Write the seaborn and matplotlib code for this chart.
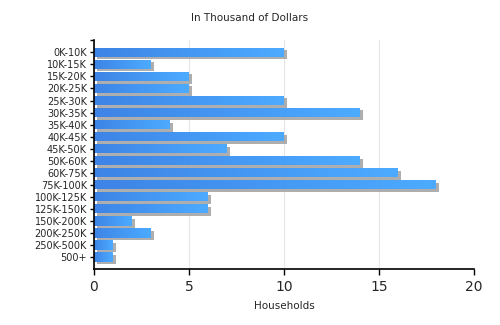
import matplotlib
matplotlib.use("Agg")
import matplotlib.pyplot as plt
import matplotlib.patheffects as pe
from matplotlib.colors import LinearSegmentedColormap
import numpy as np
import pandas as pd
import seaborn as sns

categories = ["0K-10K", "10K-15K", "15K-20K", "20K-25K", "25K-30K", "30K-35K",
              "35K-40K", "40K-45K", "45K-50K", "50K-60K", "60K-75K", "75K-100K",
              "100K-125K", "125K-150K", "150K-200K", "200K-250K", "250K-500K", "500+"]
households = [10, 3, 5, 5, 10, 14, 4, 10, 7, 14, 16, 18, 6, 6, 2, 3, 1, 1]
x_ticks = [0, 5, 10, 15, 20]

df = pd.DataFrame({"bracket": categories, "households": households})

sns.set_theme(style="white")
plt.rcParams["font.family"] = ["DejaVu Sans"]

fig = plt.figure(figsize=(5, 3.25), dpi=100)
ax = fig.add_axes([0.188, 0.172, 0.760, 0.704])

sns.barplot(data=df, x="households", y="bracket", orient="h", width=0.76,
            color="#3f8ce9", linewidth=0, edgecolor="none", ax=ax, zorder=3)

# gradient fill clipped to each bar, plus a soft drop shadow
cmap = LinearSegmentedColormap.from_list("bar_grad", ["#3d84e6", "#4cabff"])
grad = np.linspace(0, 1, 256).reshape(1, -1)
for patch in ax.patches:
    x0, y0 = patch.get_x(), patch.get_y()
    w, h = patch.get_width(), patch.get_height()
    patch.set_linewidth(0)
    patch.set_path_effects([pe.SimplePatchShadow(offset=(1.8, -1.8),
                                                 shadow_rgbFace="#a0a0a0", alpha=0.85),
                            pe.Normal()])
    im = ax.imshow(grad, cmap=cmap, aspect="auto", extent=(x0, x0 + w, y0 + h, y0),
                   zorder=4, interpolation="bilinear")
    im.set_clip_path(patch)

ax.set_xlim(0, 20)
ax.set_ylim(len(categories), -1)
ax.set_yticks([-1], minor=True)
ax.set_xticks(x_ticks)
ax.set_xticklabels([str(t) for t in x_ticks], fontsize=10)
ax.tick_params(axis="y", which="both", labelsize=7, length=3, width=1, color="black",
               pad=2, left=True)
ax.tick_params(axis="x", length=4, width=1, color="black", pad=4, bottom=True)

ax.grid(axis="x", color="#e6e6e6", linewidth=0.8, zorder=0)
ax.grid(axis="y", visible=False)
for side in ("top", "right"):
    ax.spines[side].set_visible(False)
for side in ("left", "bottom"):
    ax.spines[side].set_color("black")
    ax.spines[side].set_linewidth(1.2)
    ax.spines[side].set_zorder(6)

ax.set_ylabel("")
ax.set_xlabel("Households", fontsize=7.5, labelpad=5)
fig.text(0.5, 0.945, "In Thousand of Dollars", ha="center", va="center", fontsize=7.5)

fig.savefig("out.png", dpi=100)
